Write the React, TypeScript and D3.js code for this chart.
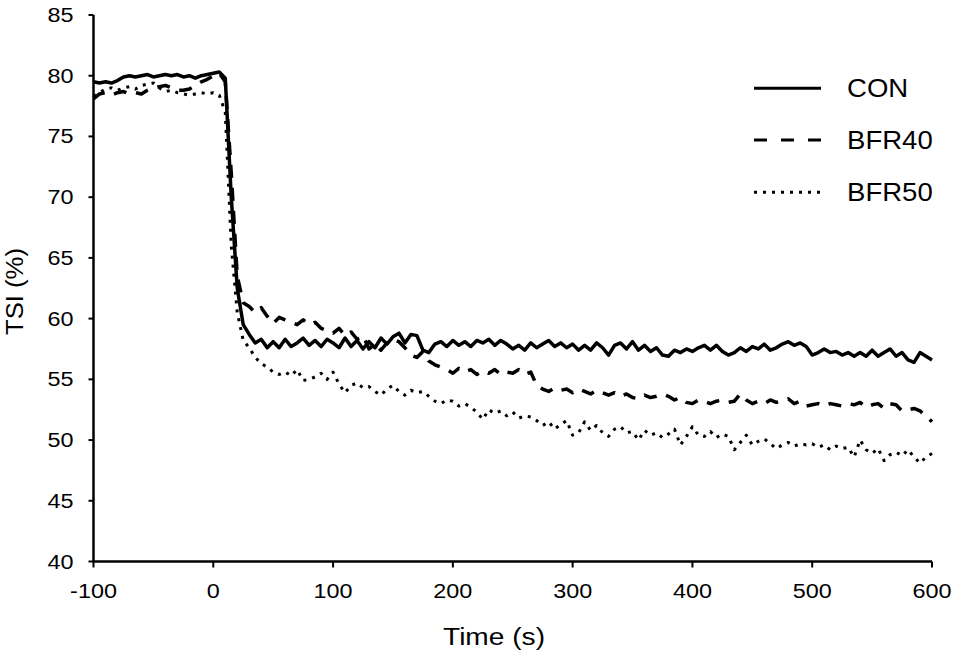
import * as d3 from "d3";

// sampled every 5 s from -100 s to 600 s (20 values per row = 100 s)
const START_TIME = -100;
const STEP = 5;

const conValues = [
  79.5, 79.4, 79.5, 79.4, 79.6, 79.9, 80.0, 79.9, 80.0, 80.1, 79.9, 80.0, 80.1, 80.0, 80.1, 79.9, 80.0, 79.8, 80.0, 80.1,
  80.2, 80.3, 79.8, 70.0, 62.5, 59.5, 58.7, 58.0, 58.3, 57.6, 58.1, 57.6, 58.3, 57.7, 58.0, 58.4, 57.8, 58.2, 57.7, 58.3,
  58.0, 57.6, 58.4, 57.7, 58.2, 57.5, 58.1, 57.6, 58.4, 57.9, 58.5, 58.8, 58.0, 58.7, 58.6, 57.4, 57.2, 57.9, 58.1, 57.7,
  58.2, 57.8, 58.1, 57.7, 58.2, 58.0, 58.3, 57.8, 58.2, 57.9, 57.5, 57.8, 57.4, 58.0, 57.6, 57.9, 58.2, 57.7, 58.0, 57.6,
  57.9, 57.4, 57.8, 57.4, 58.0, 57.6, 57.0, 57.8, 58.0, 57.5, 58.1, 57.4, 57.8, 57.3, 57.6, 57.0, 56.9, 57.4, 57.2, 57.5,
  57.3, 57.6, 57.8, 57.4, 57.8, 57.3, 57.0, 57.2, 57.6, 57.3, 57.7, 57.5, 57.9, 57.4, 57.6, 57.9, 58.1, 57.8, 58.0, 57.7,
  57.0, 57.2, 57.5, 57.2, 57.3, 57.0, 57.2, 56.9, 57.2, 56.9, 57.4, 56.9, 57.2, 57.5, 56.9, 57.2, 56.6, 56.4, 57.2, 56.9,
  56.6,
];

const bfr40Values = [
  78.1, 78.5, 78.6, 78.4, 78.6, 78.7, 78.5, 78.6, 78.5, 78.8, 79.0, 79.1, 79.2, 79.0, 78.8, 78.8, 78.9, 79.2, 79.5, 79.7,
  80.0, 80.2, 79.5, 72.0, 63.5, 61.3, 61.0, 60.5, 60.9, 60.2, 59.6, 60.1, 59.9, 59.7, 59.5, 59.9, 59.5, 59.7, 59.2, 59.0,
  58.8, 59.2, 58.6, 58.9, 58.3, 58.6, 57.5, 57.9, 57.4, 58.0, 58.3, 58.1, 57.6, 57.0, 56.8, 57.3, 56.5, 56.2, 56.0, 55.8,
  55.5, 55.9, 55.6, 55.8, 55.4, 55.7, 55.5, 55.8, 55.4, 55.6, 55.5, 55.8, 55.4, 55.6, 54.5, 54.2, 54.0, 54.3, 54.1, 54.2,
  53.9, 54.2, 54.0, 53.8, 54.1, 53.9, 53.7, 53.9, 53.6, 53.8, 53.5, 53.4, 53.7, 53.5, 53.6, 53.8, 53.6, 53.3, 53.5, 53.1,
  53.0, 53.3, 53.2, 53.0, 53.2, 53.3, 53.1, 53.2, 53.8, 53.3, 53.0, 53.2, 53.0, 53.3, 53.1, 53.2, 53.4, 53.0, 53.2, 52.8,
  52.9, 53.0, 52.8, 53.0, 52.9, 52.8, 53.0, 52.9, 53.1, 52.7, 52.9, 53.0, 52.6, 53.0, 52.9, 52.4, 52.5, 52.6, 52.4, 52.0,
  51.5,
];

const bfr50Values = [
  78.3, 78.6, 78.9, 79.0, 78.8, 79.0, 79.1, 78.9, 79.2, 79.3, 79.4, 79.0, 78.7, 78.8, 78.6, 78.5, 78.4, 78.5, 78.6, 78.5,
  78.6, 78.4, 77.0, 66.0, 60.5, 58.2, 57.6, 56.8, 56.3, 56.0, 55.6, 55.4, 55.6, 55.3, 55.8, 54.9, 55.0, 55.2, 55.5, 55.0,
  55.6, 54.6, 53.9, 54.5, 54.7, 54.3, 54.4, 54.0, 53.7, 54.2, 54.5, 54.0, 53.7, 54.1, 53.9, 54.0, 53.6, 53.2, 53.0, 53.3,
  53.2, 52.8, 53.0, 52.7, 52.3, 51.7, 52.5, 52.2, 52.4, 52.0, 52.3, 51.8, 52.0, 51.9, 51.6, 51.2, 51.5, 50.9, 51.3, 51.6,
  50.4, 50.6, 51.5, 50.8, 51.2, 50.6, 50.3, 50.9, 51.1, 50.6, 50.7, 50.0, 50.8, 50.4, 50.6, 50.2, 50.5, 50.9, 49.6, 50.3,
  51.1, 50.4, 50.3, 50.7, 50.2, 50.5, 50.3, 49.2, 49.8, 50.4, 49.6, 49.9, 50.1, 49.7, 49.3, 49.6, 49.8, 49.5, 49.7, 49.6,
  49.7, 49.4, 49.6, 49.2, 49.5, 49.3, 49.4, 48.6, 50.0, 49.2, 48.9, 49.3, 48.3, 48.8, 49.0, 48.7, 49.2, 48.6, 48.1, 48.6,
  48.9,
];

const seriesNames = ["CON", "BFR40", "BFR50"];
const xTicks = [-100, 0, 100, 200, 300, 400, 500, 600];
const yTicks = [40, 45, 50, 55, 60, 65, 70, 75, 80, 85];

const W = 957;
const H = 659;
const FONT = "'Liberation Sans', Arial, Helvetica, sans-serif";

const x = d3.scaleLinear().domain([-100, 600]).range([93.5, 932]);
const y = d3.scaleLinear().domain([40, 85]).range([561.5, 15]);

const line = d3
  .line<number>()
  .x((_, i) => x(START_TIME + i * STEP))
  .y((d) => y(d));

const styles = [
  { width: 3.5, dash: undefined as string | undefined },
  { width: 3.5, dash: "13,10" },
  { width: 3, dash: "3,6" },
];
const legendDash = [undefined, "13,14", "3,6"];
const legendY = [88.3, 140, 192.3];

// the reference text is a bit wider than Liberation Sans, so stretch it
const SText = ({
  x,
  y,
  sx,
  size,
  anchor = "start",
  children,
}: {
  x: number;
  y: number;
  sx: number;
  size: number;
  anchor?: string;
  children: string;
}) => (
  <g transform={`translate(${x},${y}) scale(${sx},1)`}>
    <text textAnchor={anchor} fontSize={size} fontFamily={FONT} fill="#000">
      {children}
    </text>
  </g>
);

export default function App() {
  const all = [conValues, bfr40Values, bfr50Values];
  const axisY = y(40);
  const axisX = x(-100);

  return (
    <svg
      width={W}
      height={H}
      style={{ position: "absolute", left: 0, top: 0, background: "#fff" }}
    >
      {/* series */}
      {all.map((vals, i) => (
        <path
          key={seriesNames[i]}
          d={line(vals) ?? ""}
          fill="none"
          stroke="#000"
          strokeWidth={styles[i].width}
          strokeDasharray={styles[i].dash}
          strokeLinejoin="round"
        />
      ))}

      {/* y axis */}
      <line x1={axisX} x2={axisX} y1={y(85)} y2={axisY} stroke="#000" strokeWidth={2.5} />
      {yTicks.map((t) => (
        <g key={t}>
          <line x1={axisX - 5} x2={axisX} y1={y(t)} y2={y(t)} stroke="#000" strokeWidth={2} />
          <SText x={axisX - 20} y={y(t) + 7} sx={1.2} size={19.5} anchor="end">
            {String(t)}
          </SText>
        </g>
      ))}

      {/* x axis */}
      <line x1={axisX} x2={x(600)} y1={axisY} y2={axisY} stroke="#000" strokeWidth={2.5} />
      {xTicks.map((t) => (
        <g key={t}>
          <line x1={x(t)} x2={x(t)} y1={axisY} y2={axisY + 6} stroke="#000" strokeWidth={2} />
          <SText x={x(t)} y={597.5} sx={1.2} size={19.5} anchor="middle">
            {String(t)}
          </SText>
        </g>
      ))}

      {/* axis titles */}
      <text
        x={494}
        y={645}
        textAnchor="middle"
        fontSize={23}
        fontFamily={FONT}
        textLength={102}
        lengthAdjust="spacingAndGlyphs"
      >
        Time (s)
      </text>
      <text
        transform="translate(23,291.5) rotate(-90)"
        textAnchor="middle"
        fontSize={23}
        fontFamily={FONT}
        textLength={87}
        lengthAdjust="spacingAndGlyphs"
      >
        TSI (%)
      </text>

      {/* legend */}
      {seriesNames.map((name, i) => (
        <g key={name}>
          <line
            x1={754}
            x2={821}
            y1={legendY[i]}
            y2={legendY[i]}
            stroke="#000"
            strokeWidth={3}
            strokeDasharray={legendDash[i]}
          />
          <SText x={847} y={legendY[i] + 9} sx={1.06} size={26}>
            {name}
          </SText>
        </g>
      ))}
    </svg>
  );
}
